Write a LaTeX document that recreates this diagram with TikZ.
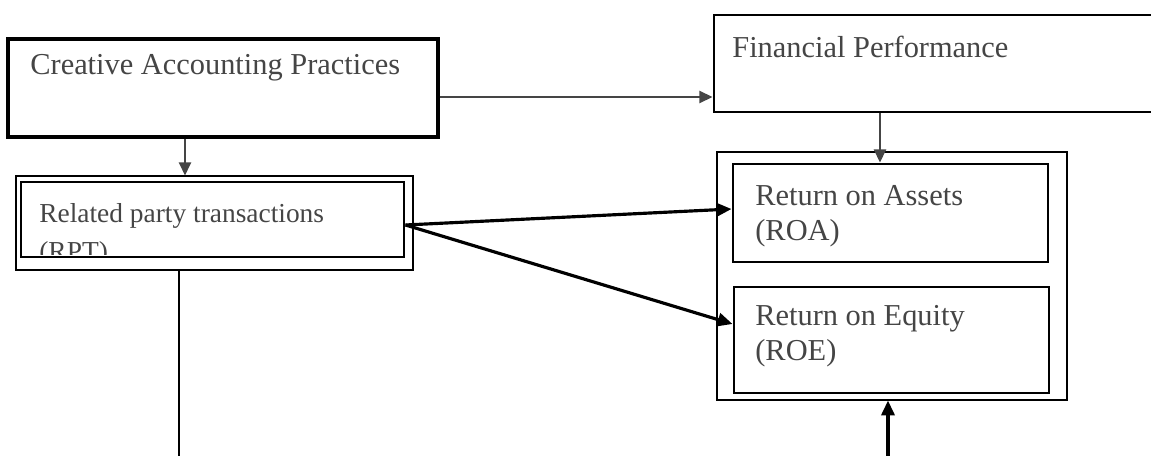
\documentclass[tikz,border=0pt]{standalone}
\usepackage{fontspec}
\setmainfont{Liberation Serif}
\usetikzlibrary{arrows.meta,positioning,calc}
\definecolor{scan}{gray}{0.27}
\tikzset{
  heavybox/.style={draw=black, line width=1.7pt, inner sep=0pt},
  lightbox/.style={draw=black, line width=0.6pt, inner sep=0pt},
  txt/.style={text=scan, inner sep=0pt, align=left, font=\fontsize{17.3}{19.9}\selectfont},
  smalltxt/.style={text=scan, inner sep=0pt, align=left, font=\fontsize{15.6}{21.6}\selectfont},
  greyarrow/.style={draw=scan, line width=0.85pt, -{Triangle[length=7.5pt,width=7pt]}},
  blackarrow/.style={draw=black, line width=1.8pt, -{Triangle[length=8.5pt,width=7.5pt]}}
}

\begin{document}
\begin{tikzpicture}
  %bounding box
    \useasboundingbox (0,0) rectangle (23.02,-9.12);
  %draw boxes
    \node[heavybox, line width=2pt, minimum width=8.6cm, minimum height=1.96cm] (cap) at (4.46,-1.76) {};
    \node[heavybox, minimum width=8.84cm, minimum height=1.94cm] (fp) at (18.70,-1.27) {};
    \node[lightbox, minimum width=7.94cm, minimum height=1.88cm] (rpto) at (4.29,-4.46) {};
    \node[heavybox, minimum width=7.66cm, minimum height=1.5cm] (rpt) at (4.25,-4.39) {};
    \node[lightbox, minimum width=7.0cm, minimum height=4.96cm] (perf) at (17.84,-5.52) {};
    \node[heavybox, minimum width=6.3cm, minimum height=1.96cm] (roa) at (17.81,-4.26) {};
    \node[heavybox, minimum width=6.3cm, minimum height=2.12cm] (roe) at (17.83,-6.80) {};
  %insert texts
    \node[txt, anchor=north west] (capt) at (0.60,-1.08) {Creative Accounting Practices};
    \node[txt, anchor=north west] (fpt) at (14.64,-0.72) {Financial Performance};
    \node[txt, anchor=north west] (roat) at (15.10,-3.70) {Return on Assets\\(ROA)};
    \node[txt, anchor=north west] (roet) at (15.10,-6.10) {Return on Equity\\(ROE)};
    \begin{scope}
       \clip (0.44,-3.66) rectangle (8.06,-5.08);
       \node[smalltxt, anchor=north west] (rptt) at (0.78,-4.06) {Related party transactions\\(RPT)};
    \end{scope}
  %free ends
    \coordinate (rptend) at (3.58,-9.12);
    \coordinate (roeup) at (17.76,-9.12);
  %draw arrows
    \draw[greyarrow] ([yshift=-0.18cm]cap.east) -- ([yshift=-0.18cm]cap.east -| fp.west);
    \draw[greyarrow] ([xshift=-0.76cm]cap.south) -- ([xshift=-0.76cm]cap.south |- rpto.north);
    \draw[greyarrow] ([xshift=-1.10cm]fp.south) -- ([xshift=-1.10cm]fp.south |- roa.north);
    \draw[blackarrow] ([yshift=-0.11cm]rpt.east) -- ([yshift=0.08cm]roa.west);
    \draw[blackarrow] ([yshift=-0.11cm]rpt.east) -- ([yshift=0.32cm]roe.west);
    \draw[black, line width=0.85pt] (rptend |- rpto.south) -- (rptend);
    \draw[blackarrow] (roeup) -- (roeup |- perf.south);
\end{tikzpicture}
\end{document}
